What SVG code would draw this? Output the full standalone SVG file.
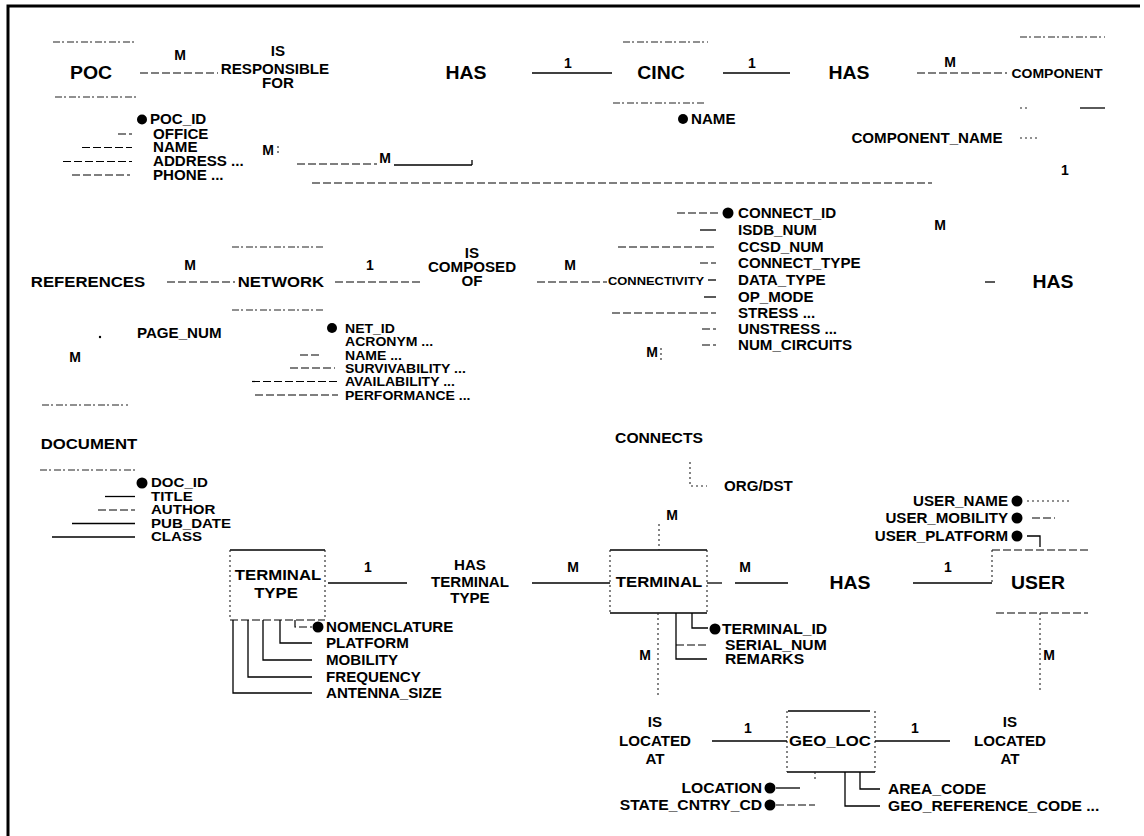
<svg xmlns="http://www.w3.org/2000/svg" width="1144" height="836" viewBox="0 0 1144 836">
<style>
.t{font-family:"Liberation Sans",Arial,Helvetica,sans-serif;font-weight:bold;fill:#000;transform-box:fill-box}
.s{text-anchor:start;transform-origin:left center;transform:scaleX(1.08)}
.m{text-anchor:middle;transform-origin:center;transform:scaleX(1.08)}
.e{text-anchor:end;transform-origin:right center;transform:scaleX(1.08)}
.w{transform:scaleX(1.16)}
.big{font-size:18px}
.ent{font-size:15.5px}
.rel{font-size:14px}
.att{font-size:14px}
.att2{font-size:14.5px}
.sm{font-size:13px}
.card{font-size:14px;text-anchor:middle}
.ln{stroke:#000;stroke-width:1.3;fill:none}
.bx{stroke:#000;stroke-width:1.5;fill:none}
.fd{stroke:#222;stroke-width:1.1;fill:none;stroke-dasharray:7 2 2 3}
.dt{stroke:#222;stroke-width:1.1;fill:none;stroke-dasharray:2 3}
.ds{stroke:#000;stroke-width:1.2;fill:none;stroke-dasharray:8 3}
.k{fill:#000}
</style>
<rect x="0" y="0" width="1144" height="836" fill="#fff"/>
<path d="M8,836 V6 H1140" stroke="#000" stroke-width="3" fill="none"/>

<g id="poc">
  <line class="fd" x1="53" y1="42" x2="136" y2="42"/>
  <line class="fd" x1="55" y1="97" x2="137" y2="97"/>
  <text class="t m big" x="91" y="79">POC</text>
  <circle class="k" cx="142" cy="119.5" r="5"/>
  <text class="t s att" x="150" y="124.5">POC_ID</text>
  <line class="ds" x1="118" y1="134" x2="132" y2="134"/>
  <text class="t s att" x="153" y="139">OFFICE</text>
  <line class="ds" x1="82" y1="147.5" x2="132" y2="147.5"/>
  <text class="t s att" x="153" y="152.5">NAME</text>
  <line class="ds" x1="63" y1="161.5" x2="132" y2="161.5"/>
  <text class="t s att" x="153" y="166.5">ADDRESS ...</text>
  <line class="ds" x1="72" y1="175" x2="130" y2="175"/>
  <text class="t s att" x="153" y="180">PHONE ...</text>
</g>

<g id="cinc">
  <line class="fd" x1="623" y1="42" x2="708" y2="42"/>
  <line class="fd" x1="613" y1="103" x2="705" y2="103"/>
  <text class="t m big" x="661" y="79.5">CINC</text>
  <circle class="k" cx="683" cy="119" r="5"/>
  <text class="t s att" x="691" y="124">NAME</text>
</g>

<g id="component">
  <line class="fd" x1="1020" y1="37" x2="1105" y2="37"/>
  <line class="dt" x1="1020" y1="108" x2="1030" y2="108"/>
  <line class="ln" x1="1080" y1="108" x2="1105" y2="108"/>
  <text class="t m" style="font-size:13px" x="1057" y="78">COMPONENT</text>
  <text class="t m att" x="927" y="143">COMPONENT_NAME</text>
  <line class="dt" x1="1020" y1="138" x2="1040" y2="138"/>
</g>

<g id="references">
  <text class="t m ent" x="88" y="287.5">REFERENCES</text>
  <circle class="k" cx="100" cy="337" r="1.2"/>
  <text class="t s att" x="137" y="338">PAGE_NUM</text>
</g>

<g id="network">
  <line class="fd" x1="232" y1="247" x2="325" y2="247"/>
  <line class="fd" x1="232" y1="310" x2="325" y2="310"/>
  <text class="t m ent" x="281" y="287.5">NETWORK</text>
  <circle class="k" cx="332" cy="328" r="5"/>
  <text class="t s sm" x="345" y="333">NET_ID</text>
  <text class="t s sm" x="345" y="346">ACRONYM ...</text>
  <line class="ds" x1="300" y1="355" x2="322" y2="355"/>
  <text class="t s sm" x="345" y="360">NAME ...</text>
  <line class="ds" x1="290" y1="368" x2="335" y2="368"/>
  <text class="t s sm" x="345" y="373">SURVIVABILITY ...</text>
  <line class="ds" x1="252" y1="381.5" x2="338" y2="381.5"/>
  <text class="t s sm" x="345" y="386.5">AVAILABILITY ...</text>
  <line class="ds" x1="255" y1="395" x2="338" y2="395"/>
  <text class="t s sm" x="345" y="400">PERFORMANCE ...</text>
</g>

<g id="connectivity">
  <text class="t" x="608" y="285" style="font-size:10px" textLength="96" lengthAdjust="spacingAndGlyphs">CONNECTIVITY</text>
  <circle class="k" cx="728" cy="213" r="5.5"/>
  <line class="ds" x1="677" y1="213" x2="718" y2="213"/>
  <text class="t s att" x="738" y="218">CONNECT_ID</text>
  <line class="ln" x1="700" y1="230" x2="716" y2="230"/>
  <text class="t s att" x="738" y="235">ISDB_NUM</text>
  <line class="ds" x1="618" y1="247" x2="716" y2="247"/>
  <text class="t s att" x="738" y="252">CCSD_NUM</text>
  <line class="ds" x1="700" y1="263" x2="716" y2="263"/>
  <text class="t s att" x="738" y="268">CONNECT_TYPE</text>
  <line class="ln" x1="708" y1="280" x2="716" y2="280"/>
  <text class="t s att" x="738" y="285">DATA_TYPE</text>
  <line class="ln" x1="704" y1="297" x2="716" y2="297"/>
  <text class="t s att" x="738" y="302">OP_MODE</text>
  <line class="ds" x1="612" y1="313" x2="716" y2="313"/>
  <text class="t s att" x="738" y="318">STRESS ...</text>
  <line class="ds" x1="702" y1="329" x2="716" y2="329"/>
  <text class="t s att" x="738" y="334">UNSTRESS ...</text>
  <line class="ds" x1="702" y1="345" x2="716" y2="345"/>
  <text class="t s att" x="738" y="350">NUM_CIRCUITS</text>
</g>

<g id="document">
  <line class="fd" x1="42" y1="405" x2="128" y2="405"/>
  <text class="t m ent" x="89" y="449.5">DOCUMENT</text>
  <line class="fd" x1="40" y1="470" x2="137" y2="470"/>
  <circle class="k" cx="142" cy="483" r="5.5"/>
  <text class="t s sm w" x="151" y="487.5">DOC_ID</text>
  <line class="ln" x1="105" y1="496.5" x2="135" y2="496.5"/>
  <text class="t s sm w" x="151" y="501">TITLE</text>
  <line class="ds" x1="98" y1="510" x2="135" y2="510"/>
  <text class="t s sm w" x="151" y="514.5">AUTHOR</text>
  <line class="ln" x1="72" y1="523.5" x2="135" y2="523.5"/>
  <text class="t s sm w" x="151" y="528">PUB_DATE</text>
  <line class="ln" x1="52" y1="537" x2="135" y2="537"/>
  <text class="t s sm w" x="151" y="541.5">CLASS</text>
</g>

<g id="terminal_type">
  <line class="bx" x1="230" y1="550" x2="325" y2="550"/>
  <line class="ds" x1="230" y1="620" x2="325" y2="620"/>
  <line class="dt" x1="230" y1="550" x2="230" y2="620"/>
  <line class="dt" x1="325" y1="550" x2="325" y2="620"/>
  <text class="t m ent" x="278" y="580.5">TERMINAL</text>
  <text class="t m ent" x="276" y="598.5">TYPE</text>
  <path class="ds" d="M295,620 V627 H312"/>
  <path class="ln" d="M280,620 V643 H312"/>
  <path class="ln" d="M263,620 V660 H312"/>
  <path class="ln" d="M248,620 V677 H312"/>
  <path class="ln" d="M233,620 V693 H312"/>
  <circle class="k" cx="318" cy="627" r="5.5"/>
  <text class="t s att" x="326" y="632">NOMENCLATURE</text>
  <text class="t s att" x="326" y="648">PLATFORM</text>
  <text class="t s att" x="326" y="665">MOBILITY</text>
  <text class="t s att" x="326" y="682">FREQUENCY</text>
  <text class="t s att" x="326" y="698">ANTENNA_SIZE</text>
</g>

<g id="terminal">
  <line class="bx" x1="610" y1="550" x2="707" y2="550"/>
  <line class="bx" x1="610" y1="613" x2="707" y2="613"/>
  <line class="dt" x1="610" y1="550" x2="610" y2="613"/>
  <line class="dt" x1="707" y1="550" x2="707" y2="613"/>
  <text class="t m ent" x="659" y="587.5">TERMINAL</text>
  <path class="ln" d="M692,613 V628 H708"/>
  <circle class="k" cx="715" cy="629" r="5.5"/>
  <text class="t s att2" x="722" y="634">TERMINAL_ID</text>
  <path class="ln" d="M676,613 V659 H707"/>
  <line class="ds" x1="676" y1="645" x2="707" y2="645"/>
  <text class="t s att2" x="725" y="650">SERIAL_NUM</text>
  <text class="t s att2" x="725" y="664.5">REMARKS</text>
</g>

<g id="user">
  <line class="ds" x1="992" y1="550" x2="1088" y2="550"/>
  <line class="ds" x1="996" y1="613" x2="1088" y2="613"/>
  <line class="dt" x1="992" y1="550" x2="992" y2="585"/>
  <text class="t m big" x="1038" y="589.5">USER</text>
  <text class="t e att" x="1008" y="506">USER_NAME</text>
  <circle class="k" cx="1017" cy="501" r="5.5"/>
  <line class="dt" x1="1027" y1="501" x2="1072" y2="501"/>
  <text class="t e att" x="1008" y="523">USER_MOBILITY</text>
  <circle class="k" cx="1017" cy="518" r="5.5"/>
  <line class="ds" x1="1032" y1="518" x2="1055" y2="518"/>
  <text class="t e att" x="1008" y="541">USER_PLATFORM</text>
  <circle class="k" cx="1017" cy="536" r="5.5"/>
  <path class="ln" d="M1027,536 H1040 V547"/>
</g>

<g id="geo_loc">
  <line class="bx" x1="788" y1="711" x2="870" y2="711"/>
  <line class="bx" x1="787" y1="772" x2="875" y2="772"/>
  <line class="dt" x1="787" y1="711" x2="787" y2="772"/>
  <line class="dt" x1="875" y1="711" x2="875" y2="772"/>
  <text class="t m ent" x="830" y="746.5">GEO_LOC</text>
  <text class="t e att2" x="762" y="793">LOCATION</text>
  <circle class="k" cx="770" cy="788" r="5.5"/>
  <line class="ln" x1="776" y1="788" x2="800" y2="788"/>
  <text class="t e att2" x="762" y="810">STATE_CNTRY_CD</text>
  <circle class="k" cx="770" cy="805" r="5.5"/>
  <line class="ds" x1="776" y1="805" x2="815" y2="805"/>
  <line class="dt" x1="815" y1="772" x2="815" y2="782"/>
  <path class="ln" d="M860,772 V789 H880"/>
  <text class="t s att2" x="888" y="794">AREA_CODE</text>
  <path class="ln" d="M845,772 V806 H880"/>
  <text class="t s att2" x="888" y="811">GEO_REFERENCE_CODE ...</text>
</g>

<g id="is_responsible_for">
  <text class="t m rel" x="278" y="56">IS</text>
  <text class="t m rel" x="275" y="74">RESPONSIBLE</text>
  <text class="t m rel" x="278" y="88">FOR</text>
</g>
<g id="has_cinc"><text class="t m big" x="466" y="79.5">HAS</text></g>
<g id="has_component"><text class="t m big" x="849" y="79.5">HAS</text></g>
<g id="is_composed_of">
  <text class="t m rel" x="472" y="258.5">IS</text>
  <text class="t m rel" x="472" y="272.5">COMPOSED</text>
  <text class="t m rel" x="472" y="286.5">OF</text>
</g>
<g id="has_connectivity"><text class="t m big" x="1053" y="288.5">HAS</text></g>
<g id="connects">
  <text class="t m" style="font-size:14.5px" x="659" y="443">CONNECTS</text>
  <text class="t s att" x="724" y="491">ORG/DST</text>
</g>
<g id="has_terminal_type">
  <text class="t m rel" x="470" y="570">HAS</text>
  <text class="t m rel" x="470" y="587">TERMINAL</text>
  <text class="t m rel" x="470" y="603">TYPE</text>
</g>
<g id="has_user"><text class="t m big" x="850" y="589.5">HAS</text></g>
<g id="is_located_at_1">
  <text class="t m rel" x="655" y="727">IS</text>
  <text class="t m rel" x="655" y="746">LOCATED</text>
  <text class="t m rel" x="655" y="764">AT</text>
</g>
<g id="is_located_at_2">
  <text class="t m rel" x="1010" y="727">IS</text>
  <text class="t m rel" x="1010" y="746">LOCATED</text>
  <text class="t m rel" x="1010" y="764">AT</text>
</g>

<g id="connectors">
  <line class="ds" x1="140" y1="73" x2="218" y2="73"/>
  <text class="t card" x="180" y="60">M</text>
  <line class="ln" x1="532" y1="73" x2="612" y2="73"/>
  <text class="t card" x="568" y="68">1</text>
  <line class="ln" x1="723" y1="73" x2="790" y2="73"/>
  <text class="t card" x="752" y="68">1</text>
  <line class="ds" x1="917" y1="73" x2="1007" y2="73"/>
  <text class="t card" x="950" y="67">M</text>
  <text class="t card" x="268" y="155">M</text>
  <line class="dt" x1="278" y1="146" x2="278" y2="153"/>
  <line class="ds" x1="297" y1="164" x2="377" y2="164"/>
  <text class="t card" x="385" y="163">M</text>
  <line class="ln" x1="394" y1="165" x2="472" y2="165"/>
  <line class="ln" x1="472" y1="160" x2="472" y2="165"/>
  <line class="ds" x1="312" y1="183" x2="932" y2="183"/>
  <text class="t card" x="1065" y="175">1</text>
  <text class="t card" x="940" y="230">M</text>
  <line class="ds" x1="167" y1="282" x2="235" y2="282"/>
  <text class="t card" x="190" y="270">M</text>
  <line class="ds" x1="335" y1="282" x2="420" y2="282"/>
  <text class="t card" x="370" y="270">1</text>
  <line class="ds" x1="537" y1="282" x2="607" y2="282"/>
  <text class="t card" x="570" y="270">M</text>
  <line class="ln" x1="985" y1="282" x2="995" y2="282"/>
  <text class="t card" x="75" y="362">M</text>
  <text class="t card" x="652" y="357">M</text>
  <line class="dt" x1="661" y1="348" x2="661" y2="360"/>
  <path class="dt" d="M690,462 V486 H707"/>
  <text class="t card" x="672" y="520">M</text>
  <line class="dt" x1="659" y1="524" x2="659" y2="550"/>
  <line class="ln" x1="328" y1="583" x2="407" y2="583"/>
  <text class="t card" x="368" y="572">1</text>
  <line class="ln" x1="532" y1="583" x2="610" y2="583"/>
  <text class="t card" x="573" y="572">M</text>
  <line class="ln" x1="707" y1="583" x2="722" y2="583"/>
  <line class="ln" x1="735" y1="583" x2="788" y2="583"/>
  <text class="t card" x="745" y="572">M</text>
  <line class="ln" x1="913" y1="583" x2="992" y2="583"/>
  <text class="t card" x="948" y="572">1</text>
  <line class="dt" x1="658" y1="613" x2="658" y2="695"/>
  <text class="t card" x="645" y="660">M</text>
  <line class="dt" x1="1040" y1="613" x2="1040" y2="690"/>
  <text class="t card" x="1049" y="660">M</text>
  <line class="ln" x1="712" y1="741" x2="787" y2="741"/>
  <text class="t card" x="748" y="733">1</text>
  <line class="ln" x1="875" y1="741" x2="950" y2="741"/>
  <text class="t card" x="915" y="733">1</text>
</g>
</svg>
